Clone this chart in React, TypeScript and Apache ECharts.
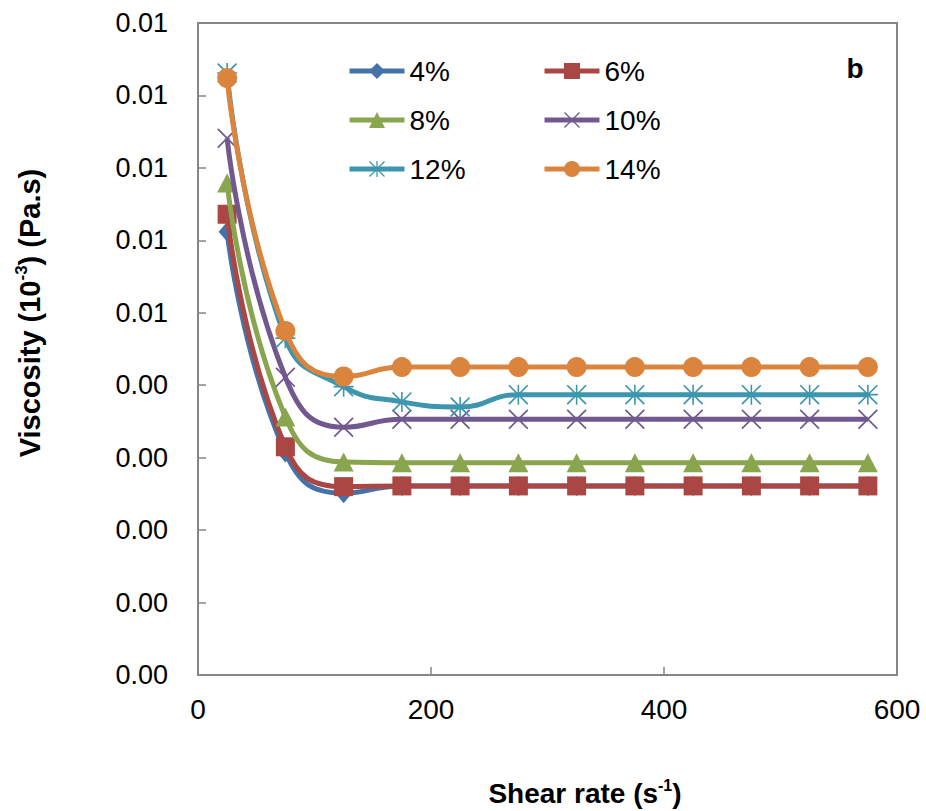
import React, { useEffect, useRef } from "react";
import * as echarts from "echarts";

const shearRate = [25, 75, 125, 175, 225, 275, 325, 375, 425, 475, 525, 575];
const seriesNames = ["4%", "6%", "8%", "10%", "12%", "14%"];
const visc4 = [0.00612, 0.00307, 0.00251, 0.00261, 0.00261, 0.00261, 0.00261, 0.00261, 0.00261, 0.00261, 0.00261, 0.00261];
const visc6 = [0.00636, 0.00315, 0.0026, 0.00261, 0.00261, 0.00261, 0.00261, 0.00261, 0.00261, 0.00261, 0.00261, 0.00261];
const visc8 = [0.00679, 0.00356, 0.00294, 0.00293, 0.00293, 0.00293, 0.00293, 0.00293, 0.00293, 0.00293, 0.00293, 0.00293];
const visc10 = [0.00741, 0.00411, 0.00342, 0.00353, 0.00353, 0.00353, 0.00353, 0.00353, 0.00353, 0.00353, 0.00353, 0.00353];
const visc12 = [0.00831, 0.00465, 0.00398, 0.00377, 0.0037, 0.00387, 0.00387, 0.00387, 0.00387, 0.00387, 0.00387, 0.00387];
const visc14 = [0.00824, 0.00475, 0.00412, 0.00425, 0.00425, 0.00425, 0.00425, 0.00425, 0.00425, 0.00425, 0.00425, 0.00425];
const xTicks = { min: 0, max: 600, interval: 200 };
const yTicks = { min: 0, max: 0.009, interval: 0.001 };

const colors = ["#4572A7", "#AA4643", "#89A54E", "#71588F", "#3D96AE", "#DB843D"];
const FONT = "'Liberation Sans', Arial, sans-serif";

const crossPath =
  "path://M0 1.2 L1.2 0 L20 18.8 L18.8 20 Z M18.8 0 L20 1.2 L1.2 20 L0 18.8 Z";
const starPath =
  "path://M0 1.2 L1.2 0 L20 18.8 L18.8 20 Z M18.8 0 L20 1.2 L1.2 20 L0 18.8 Z M9.2 0 L10.8 0 L10.8 20 L9.2 20 Z M0 10.8 L0 9.2 L20 9.2 L20 10.8 Z";

const symbols: any[] = ["diamond", "rect", "triangle", crossPath, starPath, "circle"];
const symbolSizes: any[] = [[17, 20], 19, [20, 19], 20, 20, 20];
const values = [visc4, visc6, visc8, visc10, visc12, visc14];

const legendPos = [
  [347, 67],
  [542, 67],
  [347, 116],
  [542, 116],
  [347, 165],
  [542, 165],
];

export default function App() {
  const ref = useRef<HTMLDivElement>(null);
  useEffect(() => {
    if (!ref.current) return;
    const chart = echarts.init(ref.current, null, { renderer: "svg" });
    const axisColor = "#868686";
    const option: any = {
      animation: false,
      backgroundColor: "#fff",
      grid: {
        left: 198,
        top: 23,
        width: 699,
        height: 652,
        show: true,
        borderColor: axisColor,
        borderWidth: 2,
        backgroundColor: "transparent",
      },
      xAxis: {
        type: "value",
        min: xTicks.min,
        max: xTicks.max,
        interval: xTicks.interval,
        axisLine: { show: true, lineStyle: { color: axisColor, width: 2 } },
        axisTick: { show: true, inside: true, length: 8, lineStyle: { color: axisColor, width: 1.5 } },
        splitLine: { show: false },
        axisLabel: { margin: 20, fontSize: 28, color: "#000", fontFamily: FONT },
      },
      yAxis: {
        type: "value",
        min: yTicks.min,
        max: yTicks.max,
        interval: yTicks.interval,
        axisLine: { show: true, lineStyle: { color: axisColor, width: 2 } },
        axisTick: { show: true, inside: true, length: 8, lineStyle: { color: axisColor, width: 1.5 } },
        splitLine: { show: false },
        axisLabel: {
          margin: 30,
          fontSize: 27,
          color: "#000",
          fontFamily: FONT,
          formatter: (v: number) => (Math.round(v * 100 + 1e-9) / 100).toFixed(2),
        },
      },
      legend: seriesNames.map((name, i) => ({
        data: [name],
        left: legendPos[i][0],
        top: legendPos[i][1] - 10,
        padding: 0,
        itemWidth: 55,
        itemHeight: 20,
        selectedMode: false,
        lineStyle: { width: 5, color: colors[i] },
        textStyle: { fontSize: 28, color: "#000", fontFamily: FONT },
      })),
      series: seriesNames.map((name, i) => ({
        name,
        type: "line",
        smooth: 0.5,
        data: shearRate.map((x, j) => [x, values[i][j]]),
        symbol: symbols[i],
        symbolSize: symbolSizes[i],
        showAllSymbol: true,
        lineStyle: { color: colors[i], width: 5 },
        itemStyle: { color: colors[i] },
        z: 2 + i,
      })),
      graphic: [
        {
          type: "text",
          x: 585,
          y: 793,
          style: {
            text: "{m|Shear rate (s}{s|-1}{m|)}",
            align: "center",
            verticalAlign: "middle",
            rich: {
              m: { fontSize: 28, fontWeight: "bold", fontFamily: FONT, fill: "#000", lineHeight: 32 },
              s: { fontSize: 16, fontWeight: "bold", fontFamily: FONT, fill: "#000", lineHeight: 16, verticalAlign: "top" },
            },
          },
        },
        {
          type: "text",
          x: 30,
          y: 313,
          rotation: Math.PI / 2,
          style: {
            text: "{m|Viscosity (10}{s|-3}{m|) (Pa.s)}",
            align: "center",
            verticalAlign: "middle",
            rich: {
              m: { fontSize: 29, fontWeight: "bold", fontFamily: FONT, fill: "#000", lineHeight: 34 },
              s: { fontSize: 17, fontWeight: "bold", fontFamily: FONT, fill: "#000", lineHeight: 17, verticalAlign: "top" },
            },
          },
        },
        {
          type: "text",
          x: 855,
          y: 68,
          style: {
            text: "b",
            fontSize: 28,
            fontWeight: "bold",
            fontFamily: FONT,
            fill: "#000",
            align: "center",
            verticalAlign: "middle",
          },
        },
      ],
    };
    chart.setOption(option);
    return () => chart.dispose();
  }, []);
  return (
    <div
      ref={ref}
      style={{ position: "fixed", left: 0, top: 0, width: 926, height: 811, background: "#fff" }}
    />
  );
}
